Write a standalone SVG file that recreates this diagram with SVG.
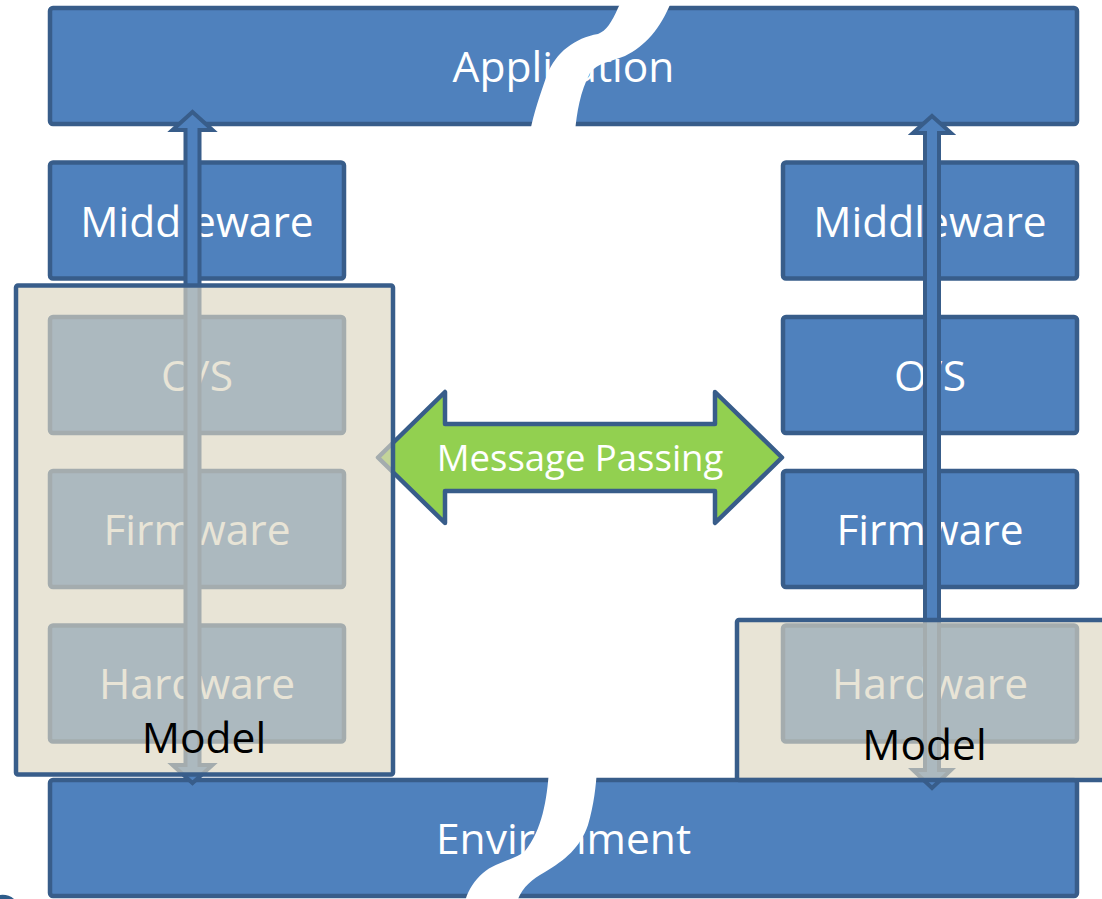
<svg xmlns="http://www.w3.org/2000/svg" width="1102" height="899" viewBox="0 0 1102 899">
  <style>
    .box { fill: #4F81BD; stroke: #385D8A; stroke-width: 4.5; }
    .lbl { font-family: "Open Sans", "Noto Sans", sans-serif; font-size: 42.5px; fill: #FFFFFF; text-anchor: middle; }
    .arrow { fill: #4F81BD; stroke: #385D8A; stroke-width: 4; stroke-linejoin: miter; }
    .msg { fill: #92D050; stroke: #385D8A; stroke-width: 4.5; stroke-linejoin: round; }
    .msg-lbl { font-family: "Open Sans", "Noto Sans", sans-serif; font-size: 36.5px; fill: #FFFFFF; text-anchor: middle; }
    .model { fill: #DCD6C1; fill-opacity: 0.66; stroke: #385D8A; stroke-width: 4.5; }
    .model-lbl { font-family: "Open Sans", "Noto Sans", sans-serif; font-size: 42.5px; fill: #000000; text-anchor: middle; }
    .cut { fill: #FFFFFF; }
  </style>

  <rect width="1102" height="899" fill="#FFFFFF"/>

  <!-- shared layers -->
  <g id="application">
    <rect class="box" x="50" y="8" width="1027" height="116" rx="3"/>
    <text class="lbl" x="563.5" y="81.5">Application</text>
  </g>
  <g id="environment">
    <rect class="box" x="50" y="780" width="1027" height="116" rx="3"/>
    <text class="lbl" x="563.5" y="853.5">Environment</text>
  </g>

  <!-- left stack -->
  <g id="left-middleware">
    <rect class="box" x="50" y="162.5" width="294" height="116" rx="3"/>
    <text class="lbl" x="197" y="236.5">Middleware</text>
  </g>
  <g id="left-os">
    <rect class="box" x="50" y="317" width="294" height="116" rx="3"/>
    <text class="lbl" x="197" y="390.5">O/S</text>
  </g>
  <g id="left-firmware">
    <rect class="box" x="50" y="471" width="294" height="116" rx="3"/>
    <text class="lbl" x="197" y="545">Firmware</text>
  </g>
  <g id="left-hardware">
    <rect class="box" x="50" y="625.5" width="294" height="116" rx="3"/>
    <text class="lbl" x="197" y="699">Hardware</text>
  </g>

  <!-- right stack -->
  <g id="right-middleware">
    <rect class="box" x="783" y="162.5" width="294" height="116" rx="3"/>
    <text class="lbl" x="930" y="236.5">Middleware</text>
  </g>
  <g id="right-os">
    <rect class="box" x="783" y="317" width="294" height="116" rx="3"/>
    <text class="lbl" x="930" y="390.5">O/S</text>
  </g>
  <g id="right-firmware">
    <rect class="box" x="783" y="471" width="294" height="116" rx="3"/>
    <text class="lbl" x="930" y="545">Firmware</text>
  </g>
  <g id="right-hardware">
    <rect class="box" x="783" y="625.5" width="294" height="116" rx="3"/>
    <text class="lbl" x="930" y="699">Hardware</text>
  </g>

  <!-- connectors -->
  <g id="connectors">
    <polygon class="arrow" points="192.5,112 212.5,130 199.5,130 199.5,765 212.5,765 192.5,783 172.5,765 185.5,765 185.5,130 172.5,130"/>
    <polygon class="arrow" points="932,116 951,133 939,133 939,770 951,770 932,788 913,770 925,770 925,133 913,133"/>
    <g id="message-passing">
      <polygon class="msg" points="378,457.5 445,392 445,424 715,424 715,392 782,457.5 715,523 715,491 445,491 445,523"/>
      <text class="msg-lbl" x="580" y="471">Message Passing</text>
    </g>
  </g>

  <!-- simulated model regions -->
  <g id="left-model">
    <rect class="model" x="16" y="285.5" width="377" height="489" rx="2"/>
    <text class="model-lbl" x="204" y="753">Model</text>
  </g>
  <g id="right-model">
    <rect class="model" x="737" y="620" width="380" height="160" rx="2"/>
    <text class="model-lbl" x="924.5" y="760">Model</text>
  </g>

  <!-- break marks across the shared layers -->
  <g id="breaks">
    <path class="cut" d="M 622 0 L 618 8 C 612 22, 606 31, 598 34 C 575 38, 556 52, 547 75 C 540 95, 534 112, 530 132 L 575 132 C 577 112, 580 92, 590 73 C 597 63, 610 62, 625 56 C 645 46, 660 30, 672 0 Z"/>
    <path class="cut" d="M 549 770 C 547 800, 542 830, 525 851 C 515 860, 495 862, 483 873 C 473 882, 467 892, 464 905 L 516 905 C 520 890, 530 880, 545 872 C 565 860, 580 848, 588 825 C 594 805, 596 785, 597 770 Z"/>
  </g>

  <path d="M 0 895 Q 8 894 14 899 L 0 899 Z" fill="#2E5C8A"/>
</svg>
